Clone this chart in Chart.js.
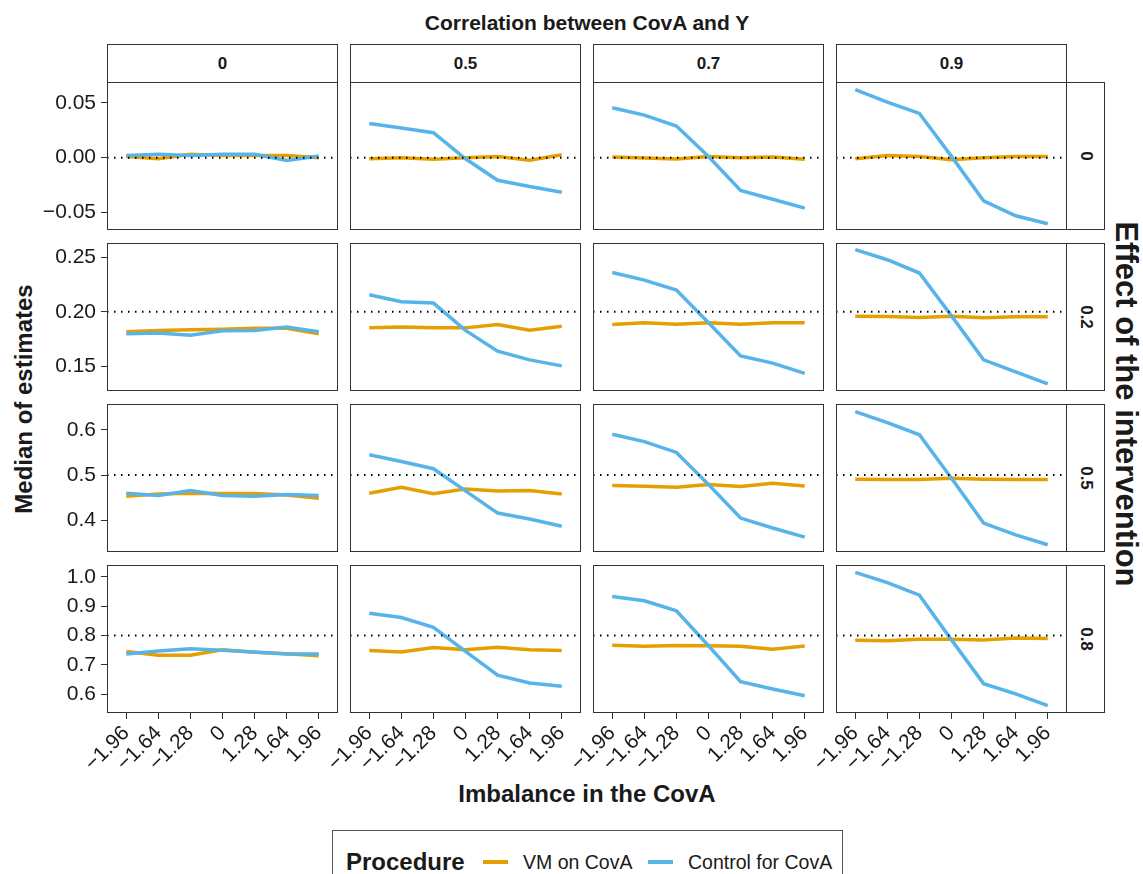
<!DOCTYPE html>
<html>
<head>
<meta charset="utf-8">
<script src="https://cdn.jsdelivr.net/npm/chart.js@4/dist/chart.umd.min.js"></script>
<style>
  html, body { margin: 0; padding: 0; background: #fff; }
  body { width: 1143px; height: 874px; position: relative; overflow: hidden; font-family: "Liberation Sans", Arial, sans-serif; color: #1a1a1a; }
  canvas { position: absolute; }
  .strip { position: absolute; box-sizing: border-box; border: 1px solid #333; background: #fff; font-weight: bold; font-size: 17px; display: flex; align-items: center; justify-content: center; }
  .strip.right span { transform: rotate(90deg); display: inline-block; }
  .lbl { position: absolute; font-weight: bold; white-space: nowrap; line-height: 1; }
  #legend { position: absolute; left: 332px; top: 830px; width: 511px; height: 70px; box-sizing: border-box; border: 1px solid #555; }
  #legend .title { position: absolute; left: 13px; top: 19px; font-size: 24px; line-height: 24px; font-weight: bold; }
  #legend .key { position: absolute; top: 29px; width: 25px; height: 4px; }
  #legend .txt { position: absolute; top: 21px; font-size: 19.5px; line-height: 20px; }
</style>
</head>
<body>
<div class="lbl" style="left:0;width:1174px;top:12px;text-align:center;font-size:21px;">Correlation between CovA and Y</div>
<div class="lbl" style="left:0;width:1174px;top:782px;text-align:center;font-size:24px;">Imbalance in the CovA</div>
<div class="lbl" style="left:24px;top:399px;font-size:24px;transform:translate(-50%,-50%) rotate(-90deg);">Median of estimates</div>
<div class="lbl" style="left:1126px;top:404px;font-size:31px;transform:translate(-50%,-50%) rotate(90deg);">Effect of the intervention</div>
<div id="legend"></div>

<script>
// x categories (imbalance of the covariate), facet levels
const imbalance = ['\u22121.96', '\u22121.64', '\u22121.28', '0', '1.28', '1.64', '1.96'];
const correlations = ['0', '0.5', '0.7', '0.9'];
const effects = [0, 0.2, 0.5, 0.8];
const procedures = ['VM on CovA', 'Control for CovA'];
const colors = ['#E69F00', '#56B4E9'];

// median estimates, one row per correlation (0, 0.5, 0.7, 0.9)
const vm_eff0 = [
  [0.001, -0.001, 0.003, 0.002, 0.002, 0.002, 0.000],
  [-0.001, 0.000, -0.0015, 0.000, 0.001, -0.0024, 0.0027],
  [0.0006, -0.0003, -0.0012, 0.001, 0.000, 0.0006, -0.0015],
  [-0.001, 0.002, 0.001, -0.002, 0.000, 0.001, 0.001]
];
const ctl_eff0 = [
  [0.002, 0.003, 0.002, 0.003, 0.003, -0.0025, 0.0015],
  [0.0312, 0.027, 0.0227, -0.001, -0.0206, -0.0264, -0.0315],
  [0.0455, 0.0388, 0.0288, 0.001, -0.030, -0.0379, -0.046],
  [0.0621, 0.0506, 0.0403, 0.0012, -0.0394, -0.053, -0.0603]
];
const vm_eff02 = [
  [0.1817, 0.183, 0.1835, 0.184, 0.185, 0.185, 0.180],
  [0.1853, 0.1862, 0.1853, 0.1853, 0.1884, 0.1832, 0.1868],
  [0.1884, 0.190, 0.1887, 0.190, 0.1887, 0.190, 0.190],
  [0.196, 0.1957, 0.1948, 0.196, 0.1945, 0.1954, 0.1954]
];
const ctl_eff02 = [
  [0.1798, 0.1807, 0.1786, 0.1826, 0.183, 0.186, 0.1817],
  [0.2156, 0.2092, 0.208, 0.183, 0.164, 0.156, 0.1505],
  [0.236, 0.229, 0.2199, 0.190, 0.1596, 0.153, 0.1437],
  [0.2569, 0.2477, 0.2355, 0.1963, 0.156, 0.145, 0.134]
];
const vm_eff05 = [
  [0.453, 0.458, 0.460, 0.459, 0.459, 0.456, 0.449],
  [0.460, 0.473, 0.459, 0.469, 0.465, 0.466, 0.458],
  [0.477, 0.475, 0.473, 0.479, 0.475, 0.482, 0.476],
  [0.491, 0.490, 0.490, 0.493, 0.491, 0.490, 0.490]
];
const ctl_eff05 = [
  [0.460, 0.455, 0.466, 0.455, 0.453, 0.457, 0.455],
  [0.545, 0.530, 0.514, 0.465, 0.416, 0.403, 0.387],
  [0.590, 0.574, 0.550, 0.479, 0.405, 0.383, 0.363],
  [0.640, 0.616, 0.589, 0.493, 0.394, 0.368, 0.346]
];
const vm_eff08 = [
  [0.7456, 0.733, 0.733, 0.751, 0.743, 0.738, 0.731],
  [0.749, 0.744, 0.759, 0.751, 0.760, 0.751, 0.749],
  [0.767, 0.763, 0.766, 0.765, 0.763, 0.7535, 0.764],
  [0.784, 0.782, 0.7875, 0.7875, 0.785, 0.791, 0.790]
];
const ctl_eff08 = [
  [0.737, 0.747, 0.755, 0.750, 0.744, 0.737, 0.737],
  [0.876, 0.861, 0.828, 0.746, 0.665, 0.638, 0.627],
  [0.9326, 0.918, 0.884, 0.765, 0.6425, 0.6176, 0.595],
  [1.015, 0.980, 0.937, 0.785, 0.636, 0.601, 0.561]
];

// y axis per effect row
const yLimits = [[-0.066, 0.069], [0.1275, 0.263], [0.330, 0.657], [0.536, 1.040]];
const yTicks = [[-0.05, 0, 0.05], [0.15, 0.2, 0.25], [0.4, 0.5, 0.6], [0.6, 0.7, 0.8, 0.9, 1.0]];
const yDigits = [2, 2, 1, 1];

const vmRows = [vm_eff0, vm_eff02, vm_eff05, vm_eff08];
const ctlRows = [ctl_eff0, ctl_eff02, ctl_eff05, ctl_eff08];

// layout of the facet grid
const colLeft = [107, 350, 593, 836];
const rowTop = [82, 243, 404, 565];
const PW = 231, PH = 148;
const STRIP = 38;
const Y_AXIS_W = 72, X_AXIS_H = 80, X_SPILL = 45;
const tickFont = { family: '"Liberation Sans", Arial, sans-serif', size: 21 };

const panelBox = {
  id: 'panelBox',
  afterDatasetsDraw(chart) {
    const a = chart.chartArea, ctx = chart.ctx;
    ctx.save();
    ctx.strokeStyle = '#333';
    ctx.lineWidth = 1;
    ctx.strokeRect(a.left + 0.5, a.top + 0.5, a.right - a.left - 1, a.bottom - a.top - 1);
    ctx.restore();
  }
};

function fmt(v, d) {
  const s = Math.abs(v).toFixed(d);
  return v < -1e-9 ? '\u2212' + s : s;
}

function pts(arr) { return arr.map((y, i) => ({ x: i, y: y })); }

// strips
correlations.forEach((c, j) => {
  const d = document.createElement('div');
  d.className = 'strip';
  d.style.cssText = `left:${colLeft[j]}px;top:${rowTop[0] - STRIP}px;width:${PW}px;height:${STRIP + 1}px;`;
  d.textContent = c;
  document.body.appendChild(d);
});
effects.forEach((e, i) => {
  const d = document.createElement('div');
  d.className = 'strip right';
  d.style.cssText = `left:${colLeft[3] + PW - 1}px;top:${rowTop[i]}px;width:${STRIP + 1}px;height:${PH}px;`;
  d.innerHTML = '<span>' + e + '</span>';
  document.body.appendChild(d);
});

effects.forEach((eff, r) => {
  correlations.forEach((c, j) => {
    const firstCol = j === 0, bottom = r === 3;
    // room on the left for the y axis, or for the rotated x labels that spill left
    const leftRoom = firstCol ? Y_AXIS_W : (bottom ? X_SPILL : 0);
    const cv = document.createElement('canvas');
    const w = PW + leftRoom;
    const h = PH + (bottom ? X_AXIS_H : 0);
    cv.width = w; cv.height = h;
    cv.style.left = (colLeft[j] - leftRoom) + 'px';
    cv.style.top = rowTop[r] + 'px';
    cv.style.width = w + 'px'; cv.style.height = h + 'px';
    document.body.appendChild(cv);

    new Chart(cv, {
      type: 'line',
      data: {
        datasets: [
          { label: 'ref', data: [{ x: -0.6, y: eff }, { x: 6.6, y: eff }], borderColor: '#000', borderWidth: 2, borderDash: [1.5, 5.5], pointRadius: 0, order: 0 },
          { label: procedures[1], data: pts(ctlRows[r][j]), borderColor: colors[1], borderWidth: 3.5, pointRadius: 0, tension: 0, order: 1 },
          { label: procedures[0], data: pts(vmRows[r][j]), borderColor: colors[0], borderWidth: 3.5, pointRadius: 0, tension: 0, order: 2 }
        ]
      },
      options: {
        responsive: false,
        animation: false,
        devicePixelRatio: 1,
        layout: { padding: { left: firstCol ? 0 : leftRoom, right: 0, top: 0, bottom: 0 } },
        plugins: { legend: { display: false }, tooltip: { enabled: false } },
        scales: {
          x: {
            type: 'linear', min: -0.6, max: 6.6, display: bottom,
            afterBuildTicks: s => { s.ticks = imbalance.map((_, i) => ({ value: i })); },
            afterFit: s => { s.height = bottom ? X_AXIS_H : 0; s.paddingLeft = 0; s.paddingRight = 0; },
            ticks: { autoSkip: false, minRotation: 45, maxRotation: 45, padding: 2, color: '#1a1a1a', font: tickFont, callback: v => imbalance[v] },
            grid: { drawOnChartArea: false, tickLength: 6, color: '#333' },
            border: { display: false }
          },
          y: {
            min: yLimits[r][0], max: yLimits[r][1], display: firstCol,
            afterBuildTicks: s => { s.ticks = yTicks[r].map(v => ({ value: v })); },
            afterFit: s => { s.width = firstCol ? Y_AXIS_W : 0; s.paddingTop = 0; s.paddingBottom = 0; },
            ticks: { padding: 5, color: '#1a1a1a', font: tickFont, callback: v => fmt(v, yDigits[r]) },
            grid: { drawOnChartArea: false, tickLength: 6, color: '#333' },
            border: { display: false }
          }
        }
      },
      plugins: [panelBox]
    });
  });
});

// shared legend
const lg = document.getElementById('legend');
lg.innerHTML = '<div class="title">Procedure</div>';
const keyX = [150, 315], txtX = [190, 355];
procedures.forEach((p, k) => {
  lg.innerHTML += `<div class="key" style="left:${keyX[k]}px;background:${colors[k]}"></div>` +
    `<div class="txt" style="left:${txtX[k]}px">${p}</div>`;
});
</script>
</body>
</html>
